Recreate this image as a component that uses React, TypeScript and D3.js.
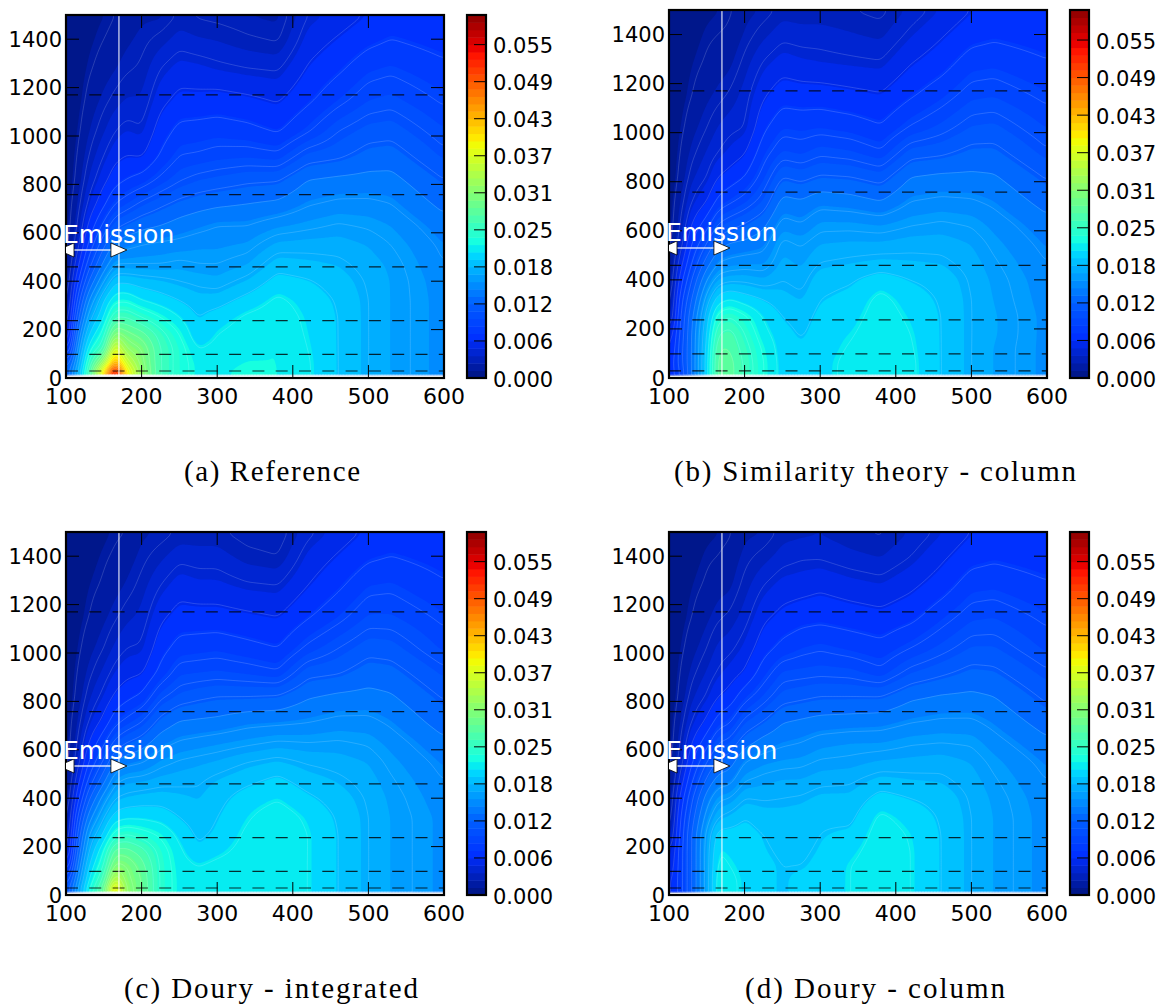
import React, { useMemo } from "react";
import * as d3 from "d3";

const xColumns = [100,115,130,150,165,180,200,225,250,275,300,340,380,420,460,500,530,600];
const heights = [15,60,120,180,250,320,400,470,550,630,720,820,920,1020,1150,1280,1400,1500];
const xTicks = [100,200,300,400,500,600];
const yTicks = [0,200,400,600,800,1000,1200,1400];
const bandLabels = ["0.000","0.006","0.012","0.018","0.025","0.031","0.037","0.043","0.049","0.055"];
const dashHeights = [1170,758,459,237,98,29];
const captions = ["(a) Reference","(b) Similarity theory - column","(c) Doury - integrated","(d) Doury - column"];
const emissionX = 170;
const lineStep = 0.0015;
const vMax = 0.06;
const bandCount = 49;

// each inner list: one x column, values in contour-line units (0.0015)
const refValues = [
[8,7,4,2,1.5,1,.8,.6,.5,.4,.4,.3,.3,.3,.2,.2,.2,.2],
[12,11,10,9,7.5,6.2,4.7,3.6,2.6,2,1.6,1.2,1,.8,.6,.5,.4,.3],
[17,16,14.5,13,11.5,10,8,6.5,5.2,4.2,3.2,2.5,2,1.6,1.2,.9,.7,.6],
[28,22,17,15.5,14,13,11,9.3,7.8,6.3,4.8,3.7,3,2.4,1.8,1.3,1,.8],
[39,30,25,20.5,17,14.7,12.8,11,9.3,7.7,6,4.6,3.7,3,2.2,1.6,1.2,1],
[27,24,21,19.5,17,14.8,12.8,11,9.7,8.2,6.5,5,4,3.3,2.5,1.9,1.5,1.2],
[21,20.5,20,18.5,16,14,12.5,11,10,8.7,7.2,5.4,3.9,3.1,2.5,2.1,1.8,1.5],
[17,17,17,16.5,15,13.5,12.3,11,10.2,9,7.8,6.2,5.1,4.5,3.7,3,2.2,1.5],
[15.5,15.5,15.5,15,14,13,12,11.2,10.3,9.4,8.3,6.9,6,5.3,4.3,3.5,2.7,2.1],
[14.5,14.5,14,13.2,13,12.5,11.8,11,10.5,9.7,8.6,7.3,6.1,5.4,4.3,3.4,2.5,1.9],
[14.5,14.5,14.3,14,13.5,12.6,11.6,11,10.5,10,8.8,7.5,6.3,5.5,4.4,3.2,2.4,1.8],
[15,14.7,14.6,14.5,14.2,13.4,12.3,11.4,10.7,10,9,7.8,6.4,5.3,4.2,3,2.1,1.6],
[14.7,14.7,14.7,14.6,14.5,14.2,13.4,12.6,11.6,10.5,9.2,7.9,6.2,4.9,3.9,2.9,1.9,1.5],
[14.1,14.1,14,13.9,13.8,13.6,13.1,12.4,11.7,10.8,9.9,9,7.5,5.9,4.8,4.1,3.5,3],
[13,13,13,13,13,12.9,12.6,12.2,11.7,11.1,10.2,9.2,7.8,7,5.7,4.8,4.1,3.5],
[12,12,12,12,12,12,11.9,11.7,11.4,10.9,10.2,9.3,8.4,7.6,6.5,5.6,4.7,4.1],
[11.4,11.4,11.4,11.4,11.4,11.4,11.4,11.3,11,10.6,10,9.3,8.5,7.7,6.7,5.8,5,4.4],
[10.3,10.3,10.3,10.3,10.3,10.3,10.2,10,9.8,9.4,8.7,8,7.2,6.6,5.85,5.2,4.6,4.2],
];
const similarityValues = [
[4,4,3.5,3,1.5,1,.7,.6,.5,.4,.4,.3,.3,.3,.2,.2,.2,.2],
[6,6.5,6.5,6.2,6,5.5,4.5,3.5,2.5,2,1.6,1.2,1,.8,.6,.5,.4,.3],
[9,9,9,9,8.7,8,7,6,5,4,3,2.3,1.8,1.4,1,.8,.6,.5],
[13.5,13.5,13.3,13,12.5,11.5,10,8.5,7,5.5,4,3,2.5,2,1.5,1.1,.9,.7],
[18.5,18.5,18,17,15.5,13.5,11.5,10,8.5,7,5.3,4,3,2.5,1.8,1.3,1,.8],
[18.5,18.5,18,17.5,16,14,11.8,10.3,9,7.5,5.8,4.4,3.4,2.8,2.1,1.5,1.1,.9],
[16.8,16.8,16.5,16,15.2,13.5,11.8,10.5,9.2,8,6.4,5,3.9,3,2.7,2.2,1.7,1.4],
[15,15,14.8,14.3,13.9,13,11.5,10.5,9.6,8.7,7.4,6.4,5.6,4.8,3.9,3.1,2.3,1.7],
[13.6,13.6,13.5,13.4,13,12.5,12,11.6,11.2,10.3,9.3,8,6.6,5.7,4.6,3.6,2.8,2.2],
[13.2,13.2,13.2,12.9,12.6,12.2,11.7,11.3,10.9,10,9.1,7.7,6.4,5.6,4.5,3.4,2.7,2.1],
[13.6,13.6,13.5,13.5,13.3,13,12.7,12,11.4,10.7,9.6,8.1,6.8,5.7,4.5,3.3,2.7,2.1],
[14.3,14.3,14.1,13.9,13.6,13.3,12.9,12.2,11.5,10.7,9.4,8,6.6,5.5,4.3,3.2,2.5,2],
[14.6,14.6,14.6,14.6,14.5,14.3,13.5,12.4,11.5,10.5,9,7.6,6.1,5.1,4.1,3.1,2.3,1.8],
[14.2,14.2,14.1,14,13.8,13.5,13,12.3,11.7,10.9,10,9,7.6,6.1,4.9,4,3.2,2.6],
[13,13,13,13,13,12.9,12.7,12.2,11.7,11.1,10.2,9.2,7.8,6.7,5.6,4.6,3.9,3.3],
[12,12,12,12,12,12,11.9,11.7,11.4,10.9,10.1,9.2,8.3,7.4,6.4,5.5,4.6,4],
[11.4,11.4,11.4,11.5,11.5,11.4,11.3,11.1,10.8,10.4,9.8,9.1,8.3,7.5,6.5,5.6,4.8,4.3],
[10.4,10.4,10.4,10.4,10.4,10.3,10.2,10,9.7,9.3,8.6,7.9,7.1,6.5,5.8,5.1,4.5,4.1],
];
const integratedValues = [
[7,6,3.5,2,1.4,1,.8,.6,.5,.4,.4,.3,.3,.3,.2,.2,.2,.2],
[11,10,9,8,7,6,4.5,3.5,2.5,2,1.6,1.2,1,.8,.6,.5,.4,.3],
[15,14,13,12,11,9.5,7.8,6.3,5,4,3,2.3,1.8,1.4,1,.8,.6,.5],
[19,17.5,16,15,13.2,12,10.5,8.8,7.2,5.8,4.3,3.3,2.6,2,1.5,1.1,.9,.7],
[28,23.5,20.5,18.5,15.5,13.5,12,10.8,9,7.3,5.6,4.2,3.3,2.6,1.9,1.4,1.1,.9],
[21,20.5,20,18.5,16,13.8,12.3,11.3,9.6,8,6.2,4.7,3.7,3,2.3,1.7,1.3,1],
[19,19,18.5,17.5,15.5,13.8,12.5,11.4,9.9,8.5,6.9,5.2,3.9,3.1,2.6,2.2,1.8,1.5],
[15.8,15.8,15.8,15.6,14.8,13.6,12.6,11.7,10.7,9.6,8.3,6.8,5.3,4.6,3.8,3,2.3,1.7],
[14.5,14.5,14.4,14.2,13.7,13,12.4,11.8,11.1,10.1,9,7.5,6.4,5.4,4.4,3.6,2.8,2.1],
[14.3,14.3,14,13.2,12.8,12.5,12.2,11.9,11.3,10.3,9.1,7.8,6.5,5.5,4.4,3.4,2.7,2.1],
[14.5,14.5,14.3,13.7,13.2,13,12.7,12.3,11.5,10.5,9.2,8,6.6,5.6,4.4,3.4,2.7,2.1],
[14.6,14.6,14.6,14.4,14.2,13.9,13.5,12.8,12,10.8,9.6,8,6.4,5.3,4.2,3.1,2.2,1.7],
[14.6,14.6,14.6,14.7,14.7,14.6,13.9,13.3,12.3,11.1,9.7,8.1,6.1,5,4,3,2,1.6],
[14,14,14,14,14,13.8,13.2,12.6,11.9,11,9.9,8.9,7.7,6.2,4.9,4,3.4,2.8],
[13,13,13,13,13,12.9,12.6,12.2,11.7,11.1,10.2,9.2,7.9,7,5.7,4.8,4.1,3.5],
[12,12,12,12,12,12,11.9,11.7,11.4,10.9,10.2,9.3,8.5,7.7,6.6,5.7,4.8,4.2],
[11.4,11.4,11.4,11.4,11.4,11.4,11.3,11.1,10.8,10.4,9.8,9.1,8.4,7.6,6.6,5.8,5,4.4],
[10.4,10.4,10.4,10.4,10.4,10.4,10.2,10,9.7,9.2,8.5,7.9,7.2,6.4,5.8,5.1,4.6,4.2],
];
const columnValues = [
[3.5,3.5,3,2.5,1.6,1,.8,.6,.5,.4,.4,.3,.3,.3,.2,.2,.2,.2],
[5.5,5.5,5.5,5.5,5.3,5,4.3,3.4,2.5,2,1.6,1.2,1,.8,.6,.5,.4,.3],
[8,8,8,8,8,7.5,6.8,5.9,4.9,4,3,2.3,1.8,1.4,1,.8,.6,.5],
[11.5,11.5,11.5,11.5,11.3,10.5,9.5,8.3,7,5.6,4.2,3.1,2.5,2,1.5,1.1,.9,.7],
[14.6,14.6,14.3,14,13.4,12,10.8,9.5,8.2,7,5.4,4,3.1,2.6,1.9,1.4,1,.8],
[14.2,14.2,14,13.8,13.4,12.4,11,9.7,8.5,7.3,5.8,4.4,3.5,2.8,2.1,1.5,1.2,.9],
[13.8,13.8,13.7,13.6,13.4,13,12,11,10,8.6,7.2,5.6,4.1,3.4,2.7,2.2,1.8,1.5],
[13.2,13.2,13.2,13.1,13,12.6,11.9,11.3,10.5,9.4,8,6.6,5.5,4.6,3.8,3,2.2,1.6],
[13,13,13,12.9,12.8,12.5,12,11.5,10.7,9.8,8.9,7.6,6.6,5.3,4.3,3.5,2.7,2.2],
[13.2,13.2,13,12.9,12.8,12.6,12.1,11.5,10.8,10,9.1,7.8,6.7,5.7,4.6,3.6,2.9,2.3],
[13.3,13.3,13.2,13.1,13,12.9,12.4,11.8,11.1,10.4,9.3,8,6.8,5.9,4.7,3.8,2.9,2.4],
[14,14,14,13.7,13.2,12.8,12.4,11.9,11.2,10.6,9.4,8,6.7,5.6,4.5,3.5,2.6,2.1],
[14.6,14.6,14.6,14.6,14.5,14.2,13.4,12.5,11.5,10.6,9.5,8,6.2,5.3,4.3,3.3,2.4,1.9],
[14,14,14,14,13.9,13.6,13,12.3,11.6,10.9,9.9,8.8,7.3,6,4.7,3.8,3,2.5],
[13,13,13,13,13,12.9,12.7,12.2,11.7,11,10.1,9.1,7.8,6.7,5.6,4.5,3.8,3.2],
[12,12,12,12,12,12,11.9,11.7,11.4,10.9,10.1,9.2,8.3,7.4,6.4,5.5,4.6,4],
[11.4,11.4,11.4,11.4,11.4,11.4,11.3,11.1,10.8,10.3,9.7,9,8.2,7.4,6.5,5.6,4.8,4.3],
[10.3,10.3,10.3,10.3,10.3,10.3,10.2,10,9.7,9.2,8.5,7.8,7.1,6.4,5.8,5.1,4.5,4.1],
];

const panels = [
  { values: refValues, left: 66, top: 15, bottom: 378, barLeft: 467, capX: 272, capY: 481, capW: 176, textY: 243 },
  { values: similarityValues, left: 669, top: 10, bottom: 378, barLeft: 1070, capX: 875, capY: 481, capW: 402, textY: 241 },
  { values: integratedValues, left: 66, top: 532, bottom: 895, barLeft: 467, capX: 271, capY: 998, capW: 294, textY: 759 },
  { values: columnValues, left: 669, top: 532, bottom: 895, barLeft: 1070, capX: 875, capY: 998, capW: 260, textY: 759 },
];
const PW = 378, BW = 19, NX = 251, NY = 200;
const SANS = "'DejaVu Sans', sans-serif";

const rCh = d3.scaleLinear([0,.35,.66,.89,1],[0,0,1,1,.55]).clamp(true);
const gCh = d3.scaleLinear([0,.1,.2,.31,.375,.64,.91,1],[.08,.17,.36,.73,1,1,0,0]).clamp(true);
const bCh = d3.scaleLinear([0,.11,.34,.65,1],[.5,1,1,0,0]).clamp(true);
const jet = (t: number) => `rgb(${Math.round(255*rCh(t))},${Math.round(255*gCh(t))},${Math.round(255*bCh(t))})`;

function resample(cols: number[][]) {
  const xIdx = d3.scaleLinear(xColumns, xColumns.map((_, i) => i));
  const yIdx = d3.scaleLinear(heights, heights.map((_, i) => i));
  let grid = new Float64Array(NX * NY);
  for (let j = 0; j < NY; j++) {
    const yv = heights[0] + (j / (NY - 1)) * (heights[heights.length - 1] - heights[0]);
    const fy = yIdx(yv), j0 = Math.min(Math.floor(fy), heights.length - 2), ty = fy - j0;
    for (let i = 0; i < NX; i++) {
      const xv = 100 + (i / (NX - 1)) * 500;
      const fx = xIdx(xv), i0 = Math.min(Math.floor(fx), xColumns.length - 2), tx = fx - i0;
      const a = cols[i0][j0] * (1 - ty) + cols[i0][j0 + 1] * ty;
      const b = cols[i0 + 1][j0] * (1 - ty) + cols[i0 + 1][j0 + 1] * ty;
      grid[j * NX + i] = (a * (1 - tx) + b * tx) * lineStep;
    }
  }
  // light smoothing, as the source grid is coarse
  for (let pass = 0; pass < 2; pass++) {
    const next = new Float64Array(NX * NY);
    for (let j = 0; j < NY; j++) for (let i = 0; i < NX; i++) {
      let s = 0, n = 0;
      for (let dj = -2; dj <= 2; dj++) for (let di = -2; di <= 2; di++) {
        const a = i + di, b = j + dj;
        if (a < 0 || b < 0 || a >= NX || b >= NY) continue;
        s += grid[b * NX + a]; n++;
      }
      next[j * NX + i] = s / n;
    }
    grid = next;
  }
  return grid;
}

function Panel({ p, cap }: { p: typeof panels[0]; cap: string }) {
  const x = d3.scaleLinear([100, 600], [p.left, p.left + PW]);
  const y = d3.scaleLinear([0, 1500], [p.bottom, p.top]);
  const bar = d3.scaleLinear([0, vMax], [p.bottom, p.top]);
  const { fills, lines } = useMemo(() => {
    const grid = resample(p.values);
    const transform = d3.geoTransform({
      point(gx: number, gy: number) {
        const xv = 100 + ((gx - 0.5) / (NX - 1)) * 500;
        const yv = heights[0] + ((gy - 0.5) / (NY - 1)) * (1500 - heights[0]);
        (this as any).stream.point(x(xv), y(yv));
      },
    });
    const path = d3.geoPath(transform);
    const fillT = d3.range(bandCount).map(i => (i * vMax) / bandCount);
    const lineT = d3.range(1, 41).map(i => i * lineStep);
    const gen = d3.contours().size([NX, NY]).smooth(true);
    const cells = Array.from(grid);
    const fills = gen.thresholds(fillT)(cells).map((c, i) => ({ d: path(c as any) || "", c: jet((i + 0.5) / bandCount) }));
    const lines = gen.thresholds(lineT)(cells).map(c => path(c as any) || "");
    return { fills, lines };
  }, []);
  const id = `clip${p.left}${p.top}`;
  const bandEdges = d3.range(bandCount).map(i => (i * vMax) / bandCount);
  const tickValues = bandLabels.map((_, i) => (i * 5 * vMax) / bandCount);
  const ay = p.textY + 7;
  const ex = x(emissionX);
  return (
    <g>
      <clipPath id={id}><rect x={p.left} y={p.top} width={PW} height={p.bottom - p.top} /></clipPath>
      <g clipPath={`url(#${id})`}>
        {fills.map((f, i) => f.d && <path key={i} d={f.d} fill={f.c} />)}
        {lines.map((d, i) => d && <path key={i} d={d} fill="none" stroke="#fff" strokeOpacity={0.32} strokeWidth={0.5} />)}
        {dashHeights.map(h => <line key={h} x1={p.left} x2={p.left + PW} y1={y(h)} y2={y(h)} stroke="#000" strokeWidth={1.2} strokeOpacity={0.8} strokeDasharray="12 11.3" />)}
        <line x1={ex} x2={ex} y1={p.top} y2={p.bottom} stroke="#fff" strokeOpacity={0.65} strokeWidth={1.6} />
      </g>
      {xTicks.map(t => (
        <g key={t}>
          <line x1={x(t)} x2={x(t)} y1={p.bottom} y2={p.bottom - 13} stroke="#000" />
          <line x1={x(t)} x2={x(t)} y1={p.top} y2={p.top + 13} stroke="#000" />
          <text x={x(t)} y={p.bottom + 26} textAnchor="middle" fontFamily={SANS} fontSize={22} fill="#000">{t}</text>
        </g>
      ))}
      {yTicks.map(t => (
        <g key={t}>
          <line x1={p.left} x2={p.left + 13} y1={y(t)} y2={y(t)} stroke="#000" />
          <line x1={p.left + PW} x2={p.left + PW - 13} y1={y(t)} y2={y(t)} stroke="#000" />
          <text x={p.left - 4} y={y(t) + 7.5} textAnchor="end" fontFamily={SANS} fontSize={21} fill="#000">{t}</text>
        </g>
      ))}
      <rect x={p.left} y={p.top} width={PW} height={p.bottom - p.top} fill="none" stroke="#000" strokeWidth={2.2} />
      <clipPath id={id + "a"}><rect x={p.left} y={p.top} width={PW + 10} height={p.bottom - p.top} /></clipPath>
      <g clipPath={`url(#${id}a)`}>
        <line x1={p.left} x2={ex} y1={ay} y2={ay} stroke="#fff" strokeOpacity={0.8} strokeWidth={1.6} />
        <path d={`M${ex + 8},${ay} L${ex - 8},${ay - 7} L${ex - 8},${ay + 7} Z`} fill="#fff" stroke="#000" strokeWidth={0.8} />
        <path d={`M${p.left - 8},${ay} L${p.left + 8},${ay - 7} L${p.left + 8},${ay + 7} Z`} fill="#fff" stroke="#000" strokeWidth={0.8} />
      </g>
      <text x={p.left - 3} y={p.textY} fontFamily={SANS} fontSize={25} fill="#fff">Emission</text>
      {bandEdges.map((v, i) => (
        <rect key={i} x={p.barLeft} width={BW} y={bar(v + vMax / bandCount)} height={bar(v) - bar(v + vMax / bandCount) + 0.5} fill={jet((i + 0.5) / bandCount)} />
      ))}
      {tickValues.map((v, i) => (
        <g key={i}>
          <line x1={p.barLeft + BW} x2={p.barLeft + BW - 12} y1={bar(v)} y2={bar(v)} stroke="#000" />
          <text x={p.barLeft + BW + 7} y={bar(v) + 8.5} fontFamily={SANS} fontSize={21} fill="#000">{bandLabels[i]}</text>
        </g>
      ))}
      <rect x={p.barLeft} y={p.top} width={BW} height={p.bottom - p.top} fill="none" stroke="#000" strokeWidth={2.2} />
      <text x={p.capX} y={p.capY} textAnchor="middle" fontFamily="'Liberation Serif', serif" fontSize={29} textLength={p.capW} lengthAdjust="spacing" fill="#000">{cap}</text>
    </g>
  );
}

export default function App() {
  return (
    <svg width={1158} height={1004} style={{ position: "absolute", left: 0, top: 0, background: "#fff" }}>
      {panels.map((p, i) => <Panel key={i} p={p} cap={captions[i]} />)}
    </svg>
  );
}
